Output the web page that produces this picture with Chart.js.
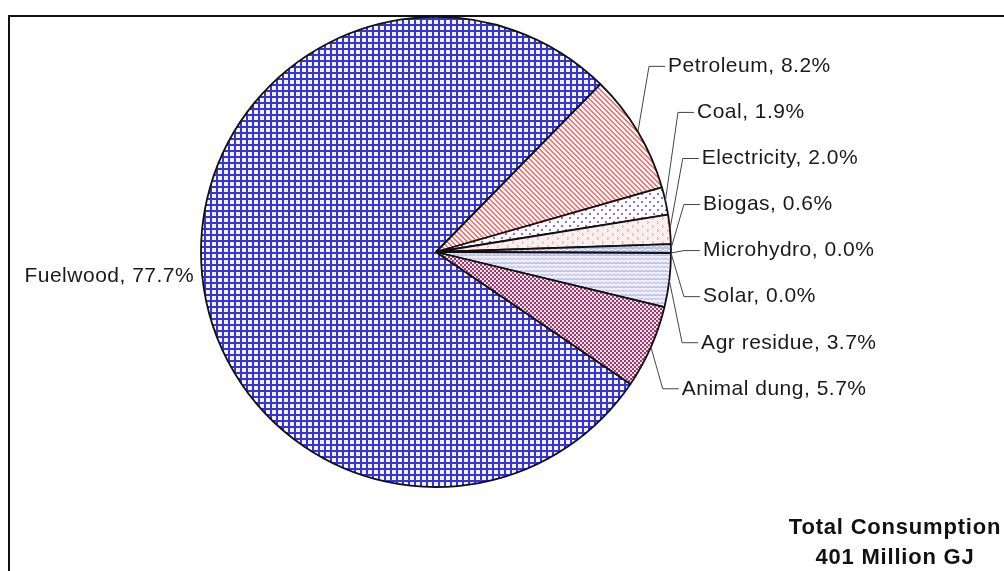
<!DOCTYPE html>
<html>
<head>
<meta charset="utf-8">
<script src="https://cdn.jsdelivr.net/npm/chart.js@4/dist/chart.umd.min.js"></script>
<style>
  html, body { margin: 0; padding: 0; background: #ffffff; }
  #wrap { width: 1004px; height: 571px; position: relative; }
</style>
</head>
<body>
<div id="wrap"><canvas id="c" width="1004" height="571"></canvas></div>
<script>
// ---- data ----
const categories = ['Fuelwood', 'Petroleum', 'Coal', 'Electricity', 'Biogas', 'Microhydro', 'Solar', 'Agr residue', 'Animal dung'];
const shares = [77.7, 8.2, 1.9, 2.0, 0.6, 0.0, 0.0, 3.7, 5.7];
const totalLines = ['Total Consumption', '401 Million GJ'];

// ---- patterns ----
function makePattern(w, h, draw) {
  const c = document.createElement('canvas');
  c.width = w; c.height = h;
  const g = c.getContext('2d');
  draw(g, w, h);
  return g.createPattern(c, 'repeat');
}
const patFuelwood = makePattern(6, 6, (g) => {
  g.fillStyle = '#f2f3ff'; g.fillRect(0, 0, 6, 6);
  g.fillStyle = '#3434da'; g.fillRect(0, 0, 6, 2); g.fillRect(0, 0, 2, 6);
});
const patPetroleum = makePattern(5, 5, (g) => {
  g.fillStyle = '#fff0f0'; g.fillRect(0, 0, 5, 5);
  g.fillStyle = '#ee7878';
  for (let x = 0; x < 5; x++) for (let y = 0; y < 5; y++) {
    if (((x - y + 10) % 5) < 2) g.fillRect(x, y, 1, 1);
  }
});
const patCoal = makePattern(8, 8, (g) => {
  g.fillStyle = '#fcfaff'; g.fillRect(0, 0, 8, 8);
  g.fillStyle = '#8a7aa2';
  g.fillRect(1, 1, 2, 2); g.fillRect(5, 5, 2, 2);
});
const patElectricity = makePattern(10, 8, (g) => {
  g.fillStyle = '#fff0f0'; g.fillRect(0, 0, 10, 8);
  g.fillStyle = '#f09c9c';
  g.fillRect(2, 1, 1, 1); g.fillRect(3, 2, 1, 1); g.fillRect(2, 3, 1, 1);
  g.fillRect(7, 5, 1, 1); g.fillRect(8, 6, 1, 1); g.fillRect(7, 7, 1, 1);
});
const patBiogas = makePattern(6, 4, (g) => {
  g.fillStyle = '#b4c4ee'; g.fillRect(0, 0, 6, 4);
  g.fillStyle = '#ffffff';
  g.fillRect(0, 1, 2, 1); g.fillRect(2, 2, 2, 1); g.fillRect(4, 1, 2, 1);
});
const patEmpty = '#d0d0f4';
const patAgr = makePattern(8, 8, (g) => {
  g.fillStyle = '#c2c2ee'; g.fillRect(0, 0, 8, 8);
  g.strokeStyle = '#ffffff'; g.lineWidth = 1.4;
  g.beginPath();
  g.moveTo(0, 2); g.lineTo(2, 0); g.lineTo(4, 2); g.lineTo(6, 0); g.lineTo(8, 2);
  g.moveTo(0, 6); g.lineTo(2, 4); g.lineTo(4, 6); g.lineTo(6, 4); g.lineTo(8, 6);
  g.stroke();
});
const patDung = makePattern(4, 4, (g) => {
  g.fillStyle = '#f6e0ec'; g.fillRect(0, 0, 4, 4);
  g.fillStyle = '#9e3a6c';
  g.fillRect(0, 0, 2, 2); g.fillRect(2, 2, 2, 2);
});
const fills = [patFuelwood, patPetroleum, patCoal, patElectricity, patBiogas, patEmpty, patEmpty, patAgr, patDung];

// ---- plugins ----
const framePlugin = {
  id: 'frame',
  beforeDraw(chart) {
    const ctx = chart.ctx;
    ctx.save();
    ctx.strokeStyle = '#111111';
    ctx.lineWidth = 2;
    ctx.strokeRect(9, 16, 1100, 700);
    ctx.restore();
  }
};

const labelPlugin = {
  id: 'pieLabels',
  afterDatasetsDraw(chart) {
    const ctx = chart.ctx;
    const arcs = chart.getDatasetMeta(0).data;
    const cx = arcs[0].x, cy = arcs[0].y, r = arcs[0].outerRadius;
    ctx.save();
    ctx.font = '21px "Liberation Sans", Arial, sans-serif';
    ctx.letterSpacing = '0.5px';
    ctx.fillStyle = '#1a1a1a';
    ctx.strokeStyle = '#444444';
    ctx.lineWidth = 1;
    ctx.textBaseline = 'middle';
    let k = 0;
    arcs.forEach((arc, i) => {
      const mid = (arc.startAngle + arc.endAngle) / 2;
      const text = categories[i] + ', ' + shares[i].toFixed(1) + '%';
      if (Math.cos(mid) < 0) {
        ctx.textAlign = 'right';
        ctx.fillText(text, cx + (r + 8) * Math.cos(mid), cy + r * Math.sin(mid) + 1);
        return;
      }
      const ax = cx + r * Math.cos(mid), ay = cy + r * Math.sin(mid);
      const ly = cy + r * (-0.79 + 0.196 * k);
      const ex = cx + r * 1.055 * Math.cos(mid);
      ctx.beginPath();
      ctx.moveTo(ax, ay);
      ctx.lineTo(ex, ly);
      ctx.lineTo(ex + 16, ly);
      ctx.stroke();
      ctx.textAlign = 'left';
      ctx.fillText(text, ex + 19, ly);
      k++;
    });
    // total annotation
    ctx.font = 'bold 22px "Liberation Sans", Arial, sans-serif';
    ctx.letterSpacing = '0.8px';
    ctx.fillStyle = '#111111';
    ctx.textAlign = 'center';
    ctx.fillText(totalLines[0], 895, 528);
    ctx.fillText(totalLines[1], 895, 558);
    ctx.restore();
  }
};

new Chart(document.getElementById('c'), {
  type: 'pie',
  data: {
    labels: categories,
    datasets: [{
      data: shares,
      backgroundColor: fills,
      borderColor: '#111111',
      borderWidth: 1.8,
      hoverOffset: 0,
      radius: 235
    }]
  },
  options: {
    responsive: false,
    animation: false,
    events: [],
    rotation: 124.15,
    layout: { padding: { left: 0, right: 132, top: 0, bottom: 67 } },
    plugins: {
      legend: { display: false },
      tooltip: { enabled: false },
      title: { display: false }
    }
  },
  plugins: [framePlugin, labelPlugin]
});
</script>
</body>
</html>
